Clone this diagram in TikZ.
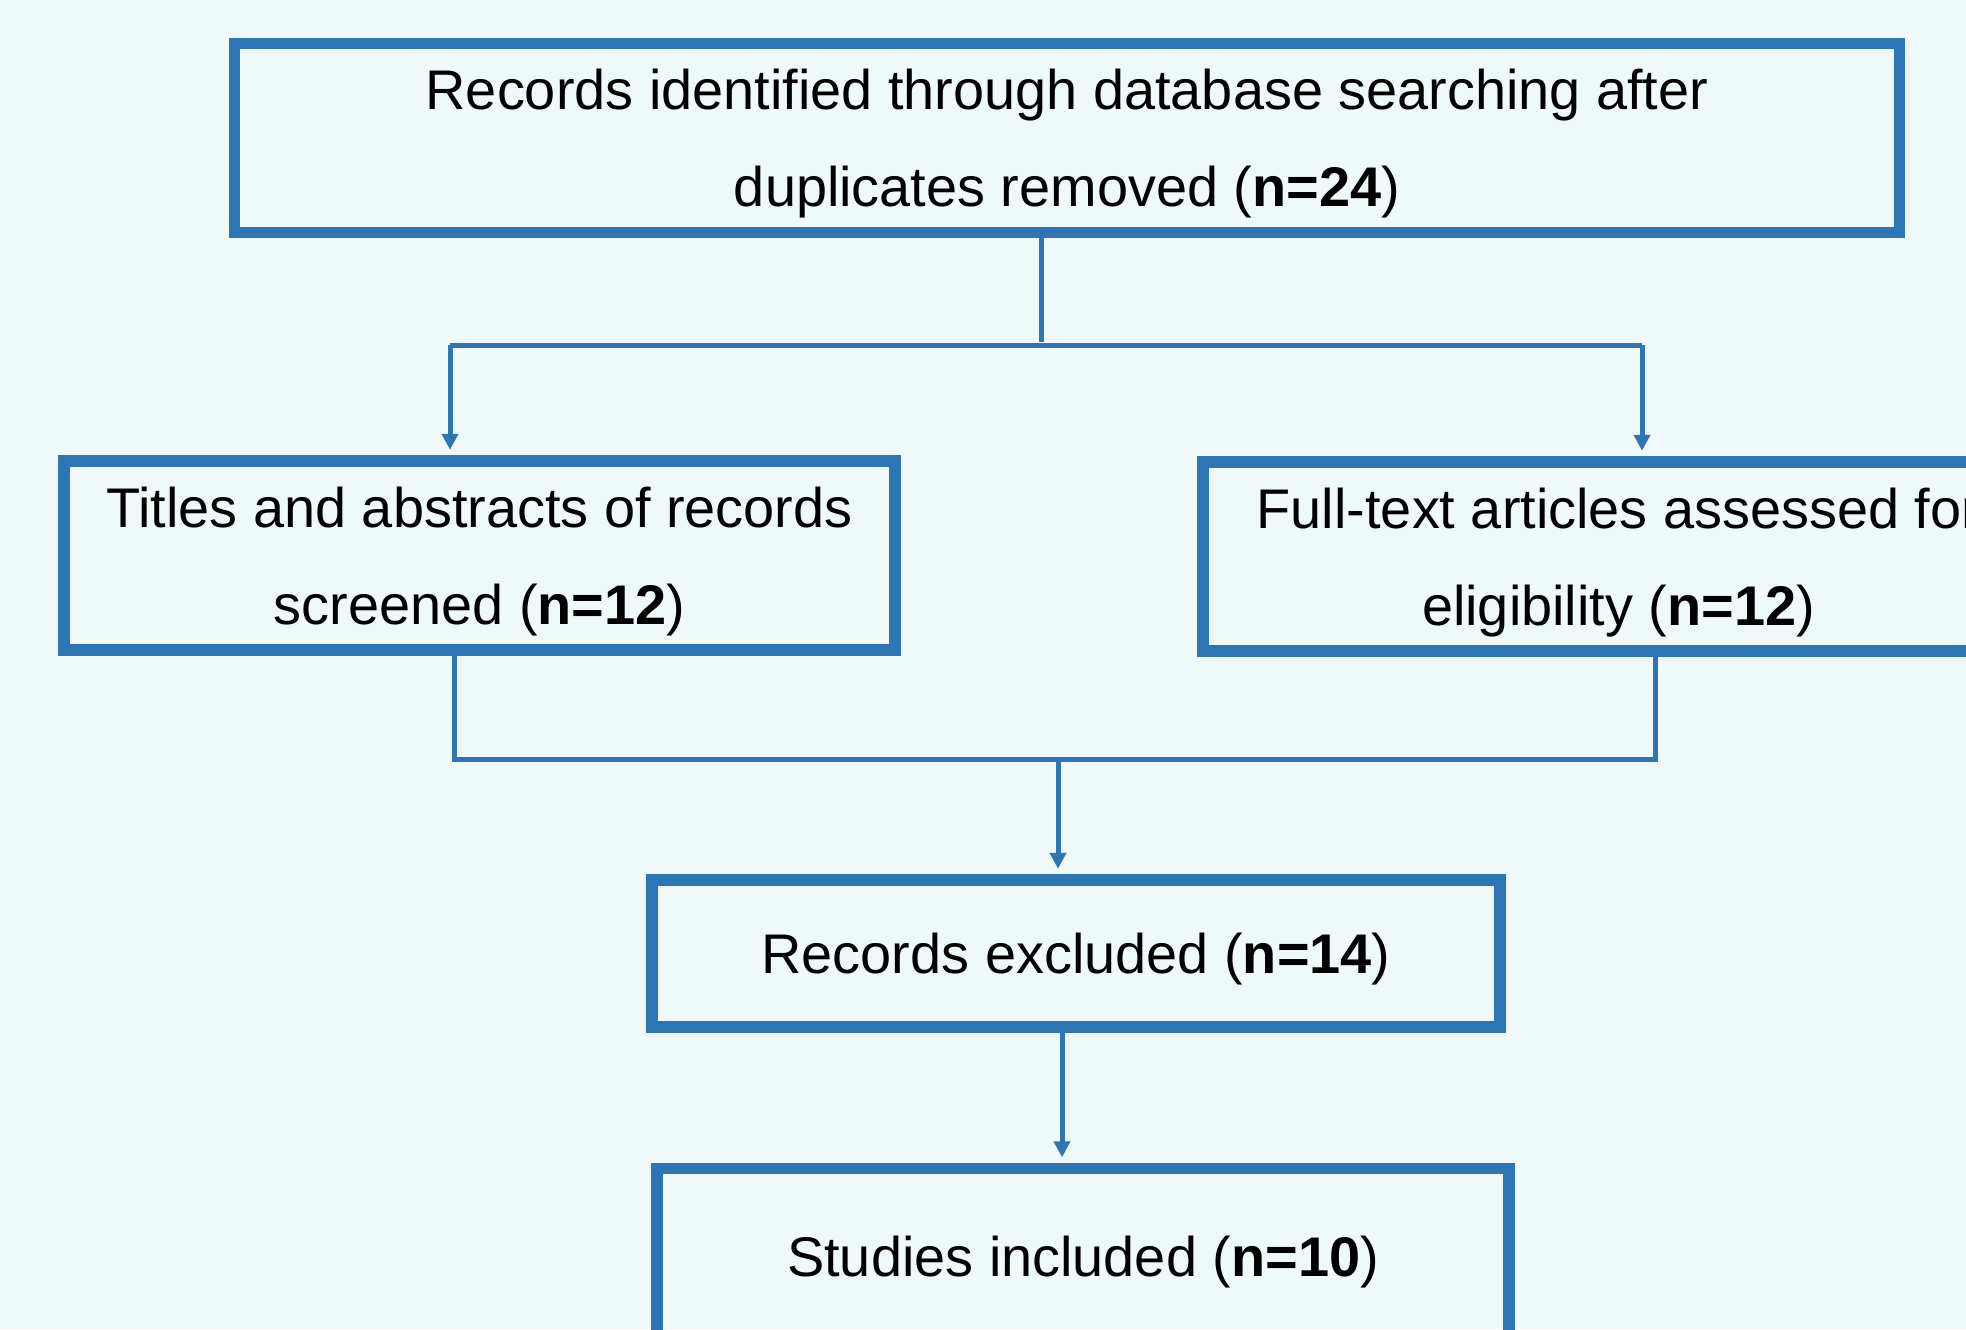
\documentclass[tikz,border=0pt]{standalone}
\usepackage{fontspec}
\setmainfont{Liberation Sans}
\usetikzlibrary{arrows.meta}
\definecolor{bg}{RGB}{240,249,250}
\definecolor{boxblue}{RGB}{46,117,182}

\begin{document}
\begin{tikzpicture}[x=0.02cm, y=-0.02cm,
  main/.style = {draw=boxblue, line width=0.23cm, align=center, inner sep=0pt,
    text depth=-0.29cm, font=\fontsize{31.8}{55}\selectfont},
  link/.style = {draw=boxblue, line width=0.1cm},
  tip/.style = {-{Triangle[length=0.32cm, width=0.32cm]}, shorten >=0.11cm}]
\useasboundingbox[fill=bg] (0,0) rectangle (1966,1329);
\node[main, minimum width=33.3cm, minimum height=3.78cm] (ident) at (1067,138) {Records identified through database searching after\\duplicates removed (\textbf{n=24})};
\node[main, minimum width=16.62cm, minimum height=3.78cm] (screen) at (479.5,555.5) {Titles and abstracts of records\\screened (\textbf{n=12})};
\node[main, minimum width=16.62cm, minimum height=3.78cm] (full) at (1618.5,556.5) {Full-text articles assessed for\\eligibility (\textbf{n=12})};
\node[main, minimum width=16.96cm, minimum height=2.94cm] (excl) at (1076,953.5) {Records excluded (\textbf{n=14})};
\node[main, minimum width=17.04cm, minimum height=3.5cm] (incl) at (1083,1256) {Studies included (\textbf{n=10})};
% split after identification
\coordinate (fork) at (1041,342);
\coordinate (forkL) at (450,345);
\coordinate (forkR) at (1642,345);
\draw[link] (ident.south -| fork) -- (fork);
\draw[link] (forkL) -- (forkR);
\draw[link, tip] (forkL) -- (forkL |- screen.north);
\draw[link, tip] (forkR) -- (forkR |- full.north);
% join into excluded
\coordinate (joinL) at (454,759);
\coordinate (joinR) at (1655,759);
\coordinate (join) at (1058,759);
\draw[link] (screen.south -| joinL) -- (joinL) -- (joinR) -- (full.south -| joinR);
\draw[link, tip] (join) -- (join |- excl.north);
\coordinate (drop) at (1062,1100);
\draw[link, tip] (excl.south -| drop) -- (incl.north -| drop);
\end{tikzpicture}
\end{document}
